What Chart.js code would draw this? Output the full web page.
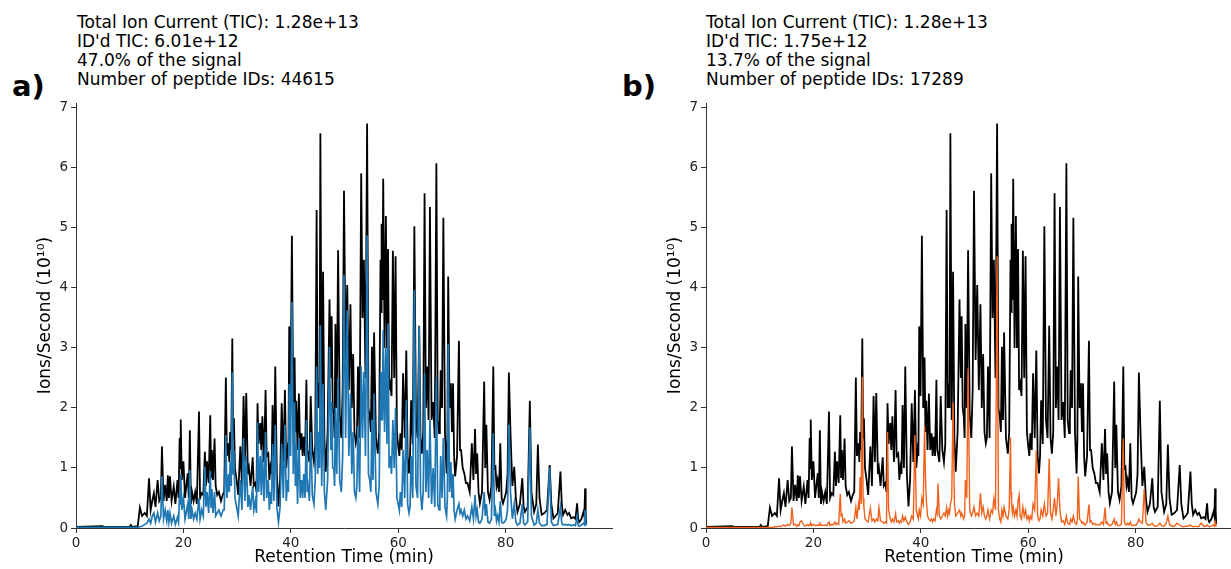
<!DOCTYPE html>
<html>
<head>
<meta charset="utf-8">
<script src="https://cdn.jsdelivr.net/npm/chart.js@4.4.1/dist/chart.umd.min.js"></script>
<style>
  html, body { margin: 0; padding: 0; background: #fff; }
  body { width: 1231px; height: 569px; overflow: hidden; position: relative; font-family: "DejaVu Sans", sans-serif; }
  canvas { position: absolute; top: 0; }
  .info { position: absolute; top: 13px; font-size: 17px; line-height: 18.9px; color: #000; white-space: pre; }
  .tag { position: absolute; top: 71.5px; font-size: 29px; line-height: 29px; font-weight: bold; color: #000; }
</style>
</head>
<body>
<div class="tag" style="left:12px">a)</div>
<div class="info" style="left:77px">Total Ion Current (TIC): 1.28e+13
ID'd TIC: 6.01e+12
47.0% of the signal
Number of peptide IDs: 44615</div>
<div class="tag" style="left:622px">b)</div>
<div class="info" style="left:706px">Total Ion Current (TIC): 1.28e+13
ID'd TIC: 1.75e+12
13.7% of the signal
Number of peptide IDs: 17289</div>
<canvas id="ca" width="640" height="569" style="left:0px;width:640px;height:569px"></canvas>
<canvas id="cb" width="640" height="569" style="left:630px;width:640px;height:569px"></canvas>
<script>
// Retention time (min)
const retentionTime = [
  0, 4.9, 5.2, 10.0, 10.2, 10.5, 11.5, 11.9, 12.3, 12.8,
  13.2, 13.6, 13.9, 14.2, 14.5, 14.8, 15.2, 15.5, 15.8, 16.0,
  16.3, 16.6, 16.9, 17.1, 17.3, 17.5, 17.8, 18.2, 18.5, 18.9,
  19.1, 19.3, 19.4, 19.5, 19.7, 20.0, 20.3, 20.8, 21.0, 21.2,
  21.4, 21.6, 21.9, 22.2, 22.5, 22.9, 23.1, 23.4, 23.7, 24.0,
  24.2, 24.4, 24.7, 25.0, 25.15, 25.3, 25.5, 25.8, 26.0, 26.3,
  26.6, 27.0, 27.4, 27.6, 27.9, 28.1, 28.4, 28.55, 28.7, 28.9,
  29.1, 29.25, 29.4, 29.6, 29.9, 30.2, 30.6, 30.9, 31.2, 31.45,
  31.7, 32.0, 32.2, 32.5, 32.9, 33.1, 33.4, 33.6, 33.8, 34.0,
  34.3, 34.5, 34.7, 35.0, 35.3, 35.5, 35.8, 36.0, 36.2, 36.4,
  36.6, 36.85, 37.1, 37.4, 37.7, 38.0, 38.3, 38.6, 38.9, 39.15,
  39.4, 39.55, 39.7, 39.95, 40.2, 40.45, 40.7, 40.85, 41.0, 41.25,
  41.5, 41.75, 42.0, 42.2, 42.4, 42.65, 42.9, 43.05, 43.2, 43.45,
  43.7, 44.0, 44.3, 44.55, 44.8, 45.0, 45.2, 45.35, 45.5, 45.75,
  46.0, 46.25, 46.5, 46.85, 47.2, 47.45, 47.6, 47.8, 48.0, 48.15,
  48.3, 48.55, 48.8, 49.1, 49.4, 49.65, 49.9, 50.2, 50.5, 50.8,
  51.1, 51.35, 51.6, 51.85, 52.1, 52.3, 52.5, 52.8, 53.1, 53.35,
  53.6, 53.9, 54.2, 54.45, 54.7, 54.9, 55.1, 55.3, 55.5, 55.85,
  56.2, 56.45, 56.7, 56.8, 56.9, 57.05, 57.2, 57.45, 57.7, 57.9,
  58.1, 58.3, 58.5, 58.75, 59.0, 59.25, 59.5, 59.75, 60.0, 60.2,
  60.4, 60.65, 60.9, 61.2, 61.5, 61.75, 62.0, 62.2, 62.4, 62.7,
  63.0, 63.3, 63.6, 63.9, 64.15, 64.4, 64.65, 64.9, 65.15, 65.4,
  65.65, 65.9, 66.2, 66.5, 66.8, 67.1, 67.35, 67.6, 67.75, 67.9,
  68.15, 68.4, 68.7, 69.0, 69.15, 69.3, 69.55, 69.8, 70.0, 70.2,
  70.4, 70.6, 70.95, 71.3, 71.5, 71.7, 72.0, 72.3, 72.6, 72.9,
  73.3, 73.7, 74.0, 74.3, 74.5, 74.7, 74.95, 75.2, 75.6, 76.0,
  76.2, 76.4, 76.7, 77.0, 77.35, 77.7, 77.9, 78.1, 78.3, 78.5,
  78.75, 79.0, 79.25, 79.5, 79.8, 80.1, 80.35, 80.6, 80.9, 81.25,
  81.6, 81.9, 82.2, 82.65, 83.1, 83.35, 83.6, 84.1, 84.5, 84.8,
  85.3, 85.7, 86.0, 86.3, 86.7, 87.2, 87.7, 88.2, 88.5, 88.9,
  89.3, 89.7, 90.2, 90.45, 90.7, 91.1, 91.5, 91.8, 92.2, 92.7,
  93.0, 93.3, 93.5, 93.7, 94.1, 94.5, 94.65, 94.8, 94.9, 95.0
];

// Total ion current (10^10 ions/s)
const ticValues = [
  0.02, 0.03, 0.02, 0.02, 0.05, 0.02, 0.03, 0.34, 0.2, 0.25,
  0.2, 0.83, 0.3, 0.45, 0.58, 0.35, 0.8, 0.45, 0.5, 1.36,
  0.45, 0.72, 0.45, 0.88, 0.5, 0.86, 0.45, 0.69, 0.4, 0.8,
  0.5, 1.5, 1.0, 1.81, 0.8, 1.11, 0.5, 0.91, 0.5, 1.63,
  0.4, 0.6, 0.45, 0.6, 0.4, 1.94, 0.5, 0.58, 0.55, 1.27,
  0.7, 1.11, 0.75, 1.88, 0.85, 1.3, 0.8, 1.49, 0.7, 0.55,
  0.6, 0.45, 0.57, 0.6, 2.51, 1.2, 1.41, 1.1, 1.6, 1.3,
  3.16, 1.5, 1.83, 1.0, 0.8, 0.55, 1.36, 0.7, 2.2, 1.1,
  2.25, 0.9, 1.0, 0.7, 1.18, 0.7, 0.75, 0.6, 2.08, 1.4,
  1.75, 1.3, 1.86, 1.1, 2.3, 1.2, 1.24, 0.8, 1.01, 0.9,
  2.05, 1.0, 2.69, 0.9, 0.36, 0.8, 2.08, 1.1, 2.3, 1.0,
  1.3, 1.2, 3.36, 2.2, 4.87, 2.0, 2.84, 1.6, 2.12, 1.3,
  2.24, 1.3, 1.58, 1.2, 1.52, 1.2, 2.47, 1.3, 1.24, 1.1,
  2.2, 1.3, 1.1, 1.4, 5.3, 2.0, 2.41, 2.0, 6.58, 1.8,
  4.27, 1.5, 0.94, 1.6, 3.81, 2.5, 3.53, 2.0, 1.85, 1.5,
  3.4, 2.0, 4.63, 1.9, 1.5, 2.3, 5.62, 2.8, 4.05, 2.3,
  3.73, 2.0, 2.9, 1.6, 1.41, 1.5, 2.69, 1.5, 5.91, 3.5,
  4.47, 2.5, 6.74, 2.0, 1.85, 1.6, 3.02, 1.8, 3.26, 1.5,
  1.24, 1.6, 4.47, 3.6, 5.07, 3.8, 5.82, 3.0, 5.2, 3.0,
  4.65, 2.3, 2.4, 2.2, 4.62, 2.5, 4.53, 1.6, 1.36, 1.2,
  1.58, 1.3, 2.58, 1.5, 2.96, 1.2, 0.91, 1.2, 2.13, 1.4,
  5.03, 1.8, 1.5, 3.37, 1.5, 1.24, 1.6, 5.58, 2.0, 2.69,
  1.8, 5.35, 1.8, 2.1, 1.5, 6.08, 1.8, 1.58, 1.8, 2.63,
  2.0, 5.17, 1.6, 0.91, 1.5, 4.19, 2.0, 2.41, 1.6, 2.41,
  1.2, 0.86, 1.2, 3.12, 1.3, 1.3, 1.0, 0.91, 0.75, 0.75,
  0.6, 1.41, 0.8, 1.65, 0.9, 1.24, 0.6, 0.41, 0.6, 2.44,
  1.0, 1.72, 0.6, 0.47, 0.7, 2.69, 1.0, 1.02, 0.7, 0.8,
  0.6, 1.41, 0.5, 0.41, 0.5, 0.6, 0.9, 2.59, 1.58, 0.7,
  1.02, 0.5, 0.27, 0.4, 0.83, 0.35, 0.27, 0.35, 2.12, 0.6,
  0.27, 0.4, 1.39, 0.5, 0.22, 0.25, 0.3, 1.05, 0.4, 0.16,
  0.2, 0.25, 0.94, 0.4, 0.22, 0.3, 0.22, 0.25, 0.16, 0.18,
  0.15, 0.41, 0.15, 0.1, 0.15, 0.27, 0.2, 0.66, 0.3, 0.06
];

// ID'd TIC, panel a (blue)
const idTicA = [
  0.01, 0.01, 0.01, 0.01, 0.01, 0.01, 0.01, 0.02, 0.03, 0.06,
  0.08, 0.15, 0.08, 0.2, 0.25, 0.1, 0.25, 0.12, 0.2, 0.86,
  0.15, 0.3, 0.12, 0.3, 0.1, 0.25, 0.08, 0.2, 0.06, 0.18,
  0.1, 0.6, 0.4, 0.9, 0.3, 0.5, 0.15, 0.4, 0.15, 0.97,
  0.15, 0.3, 0.15, 0.25, 0.15, 0.5, 0.15, 0.3, 0.2, 1.02,
  0.35, 0.6, 0.25, 0.95, 0.35, 0.65, 0.25, 0.6, 0.2, 0.25,
  0.3, 0.2, 0.3, 0.3, 1.55, 0.5, 0.9, 0.6, 1.1, 0.7,
  2.59, 0.9, 1.3, 0.5, 0.35, 0.2, 0.8, 0.3, 1.5, 0.45,
  1.2, 0.35, 0.55, 0.3, 0.7, 0.3, 0.45, 0.25, 1.76, 0.6,
  1.2, 0.55, 1.3, 0.45, 1.6, 0.5, 0.8, 0.3, 0.6, 0.4,
  1.4, 0.45, 1.72, 0.35, 0.1, 0.35, 1.4, 0.5, 1.72, 0.45,
  0.8, 0.6, 2.4, 1.2, 3.77, 0.9, 2.1, 0.7, 1.4, 0.4,
  1.5, 0.5, 0.8, 0.5, 0.9, 0.5, 1.8, 0.6, 0.7, 0.45,
  1.6, 0.55, 0.4, 0.8, 2.69, 0.9, 1.6, 1.0, 3.38, 0.7,
  2.4, 0.6, 0.3, 0.8, 3.02, 1.3, 2.1, 1.0, 1.0, 0.7,
  2.0, 0.9, 2.5, 0.8, 0.6, 1.2, 4.22, 1.5, 3.63, 1.2,
  2.24, 0.9, 1.6, 0.6, 0.5, 0.7, 1.7, 0.6, 2.69, 1.5,
  2.6, 1.2, 4.88, 0.9, 0.8, 0.6, 1.8, 0.8, 2.24, 0.6,
  0.4, 0.7, 2.6, 1.8, 2.6, 1.8, 3.3, 1.6, 3.0, 1.4,
  3.41, 1.0, 1.2, 0.9, 1.8, 1.0, 2.0, 0.5, 0.4, 0.3,
  0.6, 0.35, 1.3, 0.5, 2.13, 0.4, 0.25, 0.35, 1.2, 0.5,
  3.97, 0.7, 0.5, 3.36, 0.6, 0.3, 0.6, 2.58, 0.6, 1.3,
  0.5, 1.8, 0.4, 1.0, 0.35, 2.52, 0.4, 0.3, 0.5, 1.2,
  0.5, 1.5, 0.35, 0.2, 0.5, 3.07, 0.6, 1.1, 0.5, 0.9,
  0.3, 0.15, 0.3, 0.4, 0.25, 0.3, 0.2, 0.3, 0.15, 0.2,
  0.12, 0.35, 0.15, 0.55, 0.2, 0.3, 0.1, 0.08, 0.15, 0.6,
  0.2, 0.4, 0.1, 0.08, 0.15, 1.58, 0.2, 0.3, 0.12, 0.2,
  0.1, 0.45, 0.1, 0.08, 0.1, 0.15, 0.3, 1.72, 0.6, 0.15,
  0.4, 0.1, 0.05, 0.08, 0.4, 0.08, 0.05, 0.1, 1.68, 0.2,
  0.05, 0.08, 0.3, 0.08, 0.04, 0.04, 0.06, 1.0, 0.1, 0.04,
  0.05, 0.06, 0.35, 0.08, 0.05, 0.06, 0.05, 0.06, 0.04, 0.05,
  0.04, 0.2, 0.05, 0.03, 0.05, 0.08, 0.06, 0.3, 0.1, 0.04
];

// ID'd TIC, panel b (orange)
const idTicB = [
  0.01, 0.01, 0.01, 0.01, 0.01, 0.01, 0.01, 0.01, 0.01, 0.02,
  0.02, 0.03, 0.02, 0.04, 0.05, 0.03, 0.06, 0.04, 0.08, 0.34,
  0.05, 0.06, 0.03, 0.05, 0.04, 0.1, 0.12, 0.05, 0.03, 0.06,
  0.04, 0.06, 0.05, 0.08, 0.04, 0.06, 0.04, 0.05, 0.04, 0.08,
  0.04, 0.05, 0.04, 0.05, 0.04, 0.1, 0.04, 0.06, 0.05, 0.1,
  0.06, 0.08, 0.06, 0.57, 0.2, 0.25, 0.1, 0.15, 0.08, 0.1,
  0.12, 0.08, 0.1, 0.12, 0.35, 0.15, 0.4, 0.3, 0.85, 0.4,
  2.52, 0.5, 0.35, 0.15, 0.12, 0.1, 0.33, 0.12, 0.15, 0.1,
  0.15, 0.12, 0.34, 0.12, 0.1, 0.08, 0.1, 0.08, 1.6, 0.3,
  0.15, 0.1, 0.15, 0.1, 0.24, 0.1, 0.12, 0.08, 0.12, 0.1,
  0.2, 0.12, 0.18, 0.1, 0.06, 0.1, 0.2, 0.15, 1.55, 0.3,
  0.2, 0.15, 0.3, 0.2, 0.5, 0.4, 1.7, 0.9, 0.5, 0.2,
  0.15, 0.12, 0.15, 0.1, 0.15, 0.12, 0.3, 0.25, 0.74, 0.2,
  0.15, 0.2, 0.25, 0.2, 0.34, 0.2, 0.3, 0.25, 0.4, 0.5,
  2.09, 0.4, 0.2, 0.25, 0.3, 0.2, 0.25, 0.2, 0.15, 0.2,
  0.8, 0.5, 2.66, 0.3, 0.2, 0.25, 0.35, 0.2, 0.25, 0.2,
  0.58, 0.25, 0.35, 0.2, 0.15, 0.2, 0.3, 0.15, 0.3, 0.25,
  0.49, 0.3, 4.53, 0.3, 0.15, 0.1, 0.3, 0.2, 0.35, 0.2,
  0.15, 0.3, 1.51, 0.6, 0.4, 0.25, 0.35, 0.2, 0.3, 0.2,
  0.45, 0.55, 0.2, 0.15, 0.35, 0.2, 0.3, 0.15, 0.2, 0.12,
  0.2, 0.15, 0.4, 0.3, 1.29, 0.2, 0.12, 0.15, 0.3, 0.2,
  0.4, 0.2, 0.25, 1.16, 0.25, 0.15, 0.3, 0.5, 0.2, 0.4,
  0.83, 0.3, 0.1, 0.12, 0.06, 0.2, 0.08, 0.06, 0.1, 0.15,
  0.1, 0.2, 0.08, 0.06, 0.15, 0.86, 0.15, 0.12, 0.08, 0.1,
  0.06, 0.05, 0.1, 0.39, 0.1, 0.12, 0.06, 0.08, 0.05, 0.06,
  0.05, 0.1, 0.06, 0.34, 0.08, 0.1, 0.05, 0.04, 0.06, 0.15,
  0.06, 0.1, 0.04, 0.04, 0.06, 1.49, 0.1, 0.06, 0.05, 0.08,
  0.05, 0.1, 0.04, 0.04, 0.05, 0.05, 0.08, 0.15, 0.1, 0.08,
  0.65, 0.1, 0.05, 0.05, 0.08, 0.04, 0.03, 0.04, 0.08, 0.04,
  0.03, 0.08, 0.2, 0.06, 0.03, 0.03, 0.08, 0.05, 0.03, 0.02,
  0.03, 0.03, 0.05, 0.03, 0.02, 0.03, 0.02, 0.03, 0.08, 0.03,
  0.03, 0.05, 0.03, 0.02, 0.03, 0.05, 0.03, 0.1, 0.05, 0.02
];

const xTickValues = [0, 20, 40, 60, 80];
const yTickValues = [0, 1, 2, 3, 4, 5, 6, 7];

const points = ys => retentionTime.map((t, i) => ({ x: t, y: ys[i] }));

function makeChart(id, idValues, idColor, idWidth) {
  const tickFont = { family: "DejaVu Sans", size: 13.5 };
  const titleFont = { family: "DejaVu Sans", size: 17 };
  return new Chart(document.getElementById(id), {
    type: 'line',
    data: {
      datasets: [
        { data: points(idValues), borderColor: idColor, borderWidth: idWidth, pointRadius: 0, tension: 0, order: 0 },
        { data: points(ticValues), borderColor: '#000000', borderWidth: 1.8, pointRadius: 0, tension: 0, order: 1 }
      ]
    },
    options: {
      responsive: false,
      animation: false,
      events: [],
      layout: { padding: { left: 0, right: 28, top: 103, bottom: 0 } },
      plugins: { legend: { display: false }, tooltip: { enabled: false }, title: { display: false } },
      scales: {
        x: {
          type: 'linear', min: 0, max: 99.8,
          afterFit: s => { s.height = 41; },
          afterBuildTicks: s => { s.ticks = xTickValues.map(v => ({ value: v })); },
          ticks: { font: tickFont, color: '#222', padding: 2, maxRotation: 0, includeBounds: false },
          grid: { display: true, drawOnChartArea: false, tickLength: 5, tickColor: '#333', tickWidth: 1 },
          border: { display: true, color: '#333', width: 1 },
          title: { display: true, text: 'Retention Time (min)', font: titleFont, color: '#000', padding: { top: 0, bottom: 1.5 } }
        },
        y: {
          type: 'linear', min: 0, max: 7.083,
          afterFit: s => { s.width = 76; },
          afterBuildTicks: s => { s.ticks = yTickValues.map(v => ({ value: v })); },
          ticks: { font: tickFont, color: '#222', padding: 3, includeBounds: false },
          grid: { display: true, drawOnChartArea: false, tickLength: 5, tickColor: '#333', tickWidth: 1 },
          border: { display: true, color: '#333', width: 1 },
          title: { display: true, text: 'Ions/Second (10¹⁰)', font: titleFont, color: '#000', padding: { top: 35, bottom: 0 } }
        }
      }
    }
  });
}

makeChart('ca', idTicA, '#1f77b4', 1.7);
makeChart('cb', idTicB, '#f0621b', 1.4);
</script>
</body>
</html>
